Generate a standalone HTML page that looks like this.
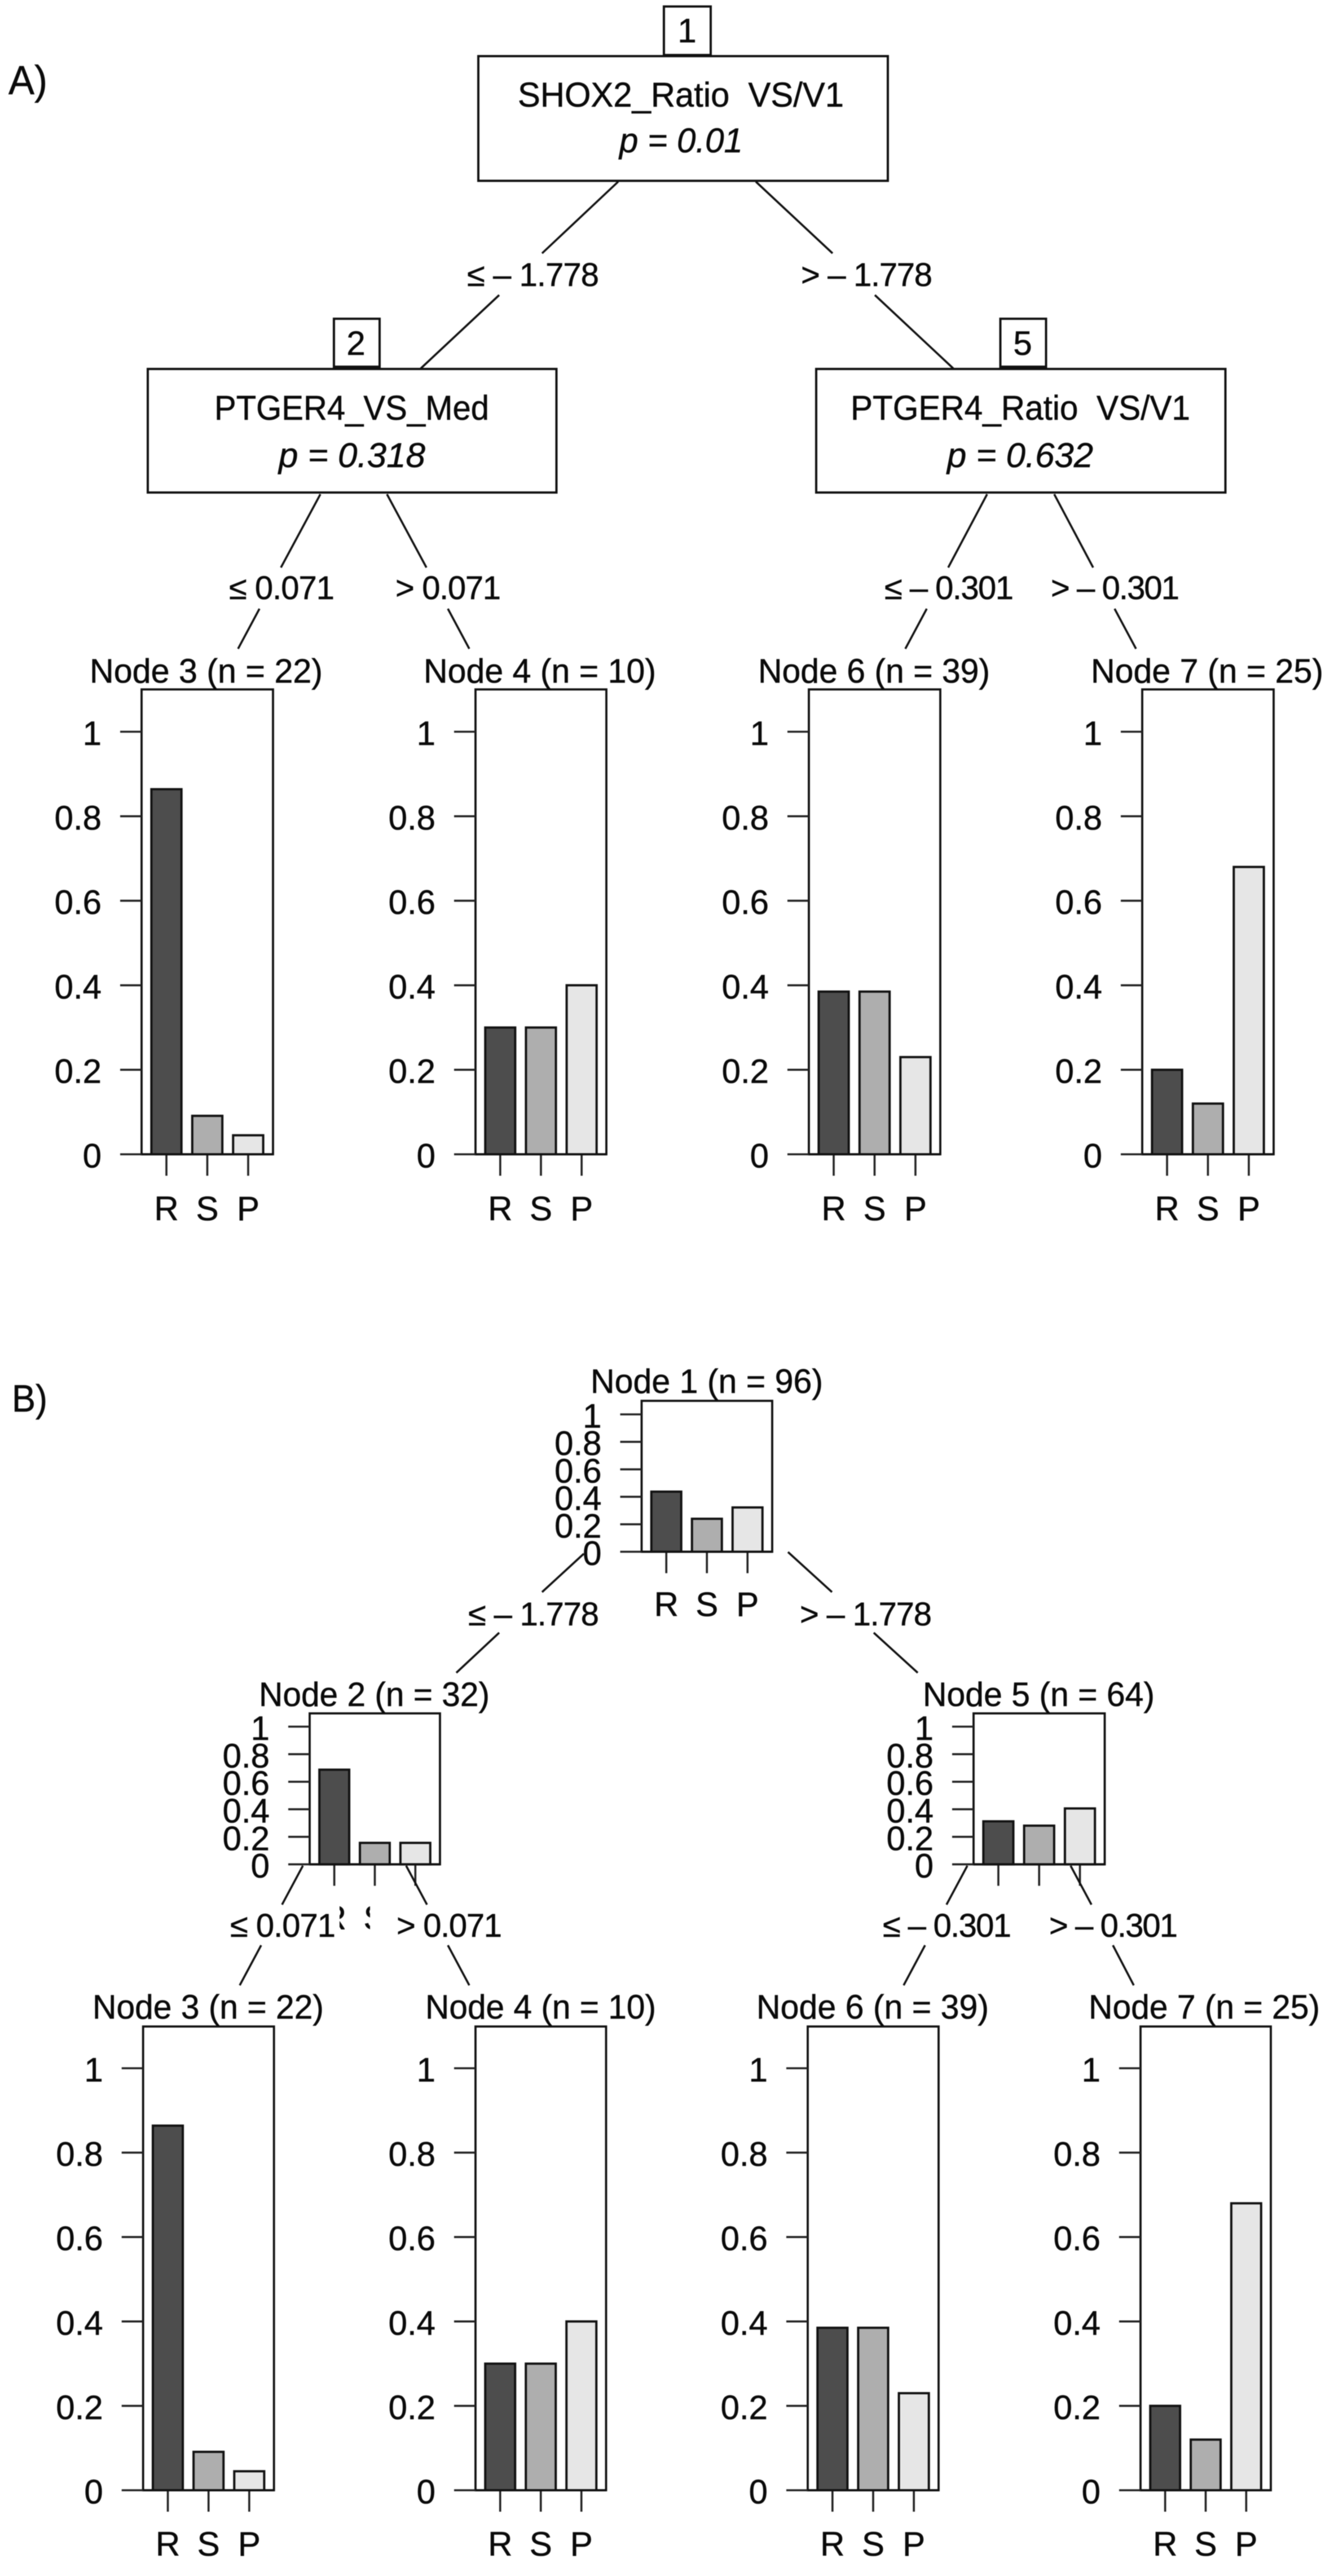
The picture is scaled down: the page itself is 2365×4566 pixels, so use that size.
<!DOCTYPE html>
<html lang="en">
<head>
<meta charset="utf-8">
<title>Decision trees A and B</title>
<style>
  html, body { margin: 0; padding: 0; background: #fff; }
  svg { display: block; filter: blur(0.7px); }
  text { font-family: "Liberation Sans", "DejaVu Sans", sans-serif; fill: #0a0a0a; stroke: #0a0a0a; stroke-width: 0.6px; white-space: pre; }
  .box { font-size: 61px; }
  .pv { font-size: 61px; font-style: italic; }
  .lab { font-size: 58px; }
  .ttl { font-size: 60px; }
  .edge { stroke: #111; stroke-width: 3.6; fill: none; }
  .nodebox { stroke: #111; stroke-width: 4; fill: #fff; }
</style>
</head>
<body>
<svg id="fig" xmlns="http://www.w3.org/2000/svg" width="2365" height="4566" viewBox="0 0 2365 4566">
  <defs>
    <clipPath id="clip-r"><rect x="602" y="3378" width="9" height="46"/></clipPath>
    <clipPath id="clip-s"><rect x="647" y="3378" width="9" height="46"/></clipPath>
  </defs>
  <rect width="2365" height="4566" fill="#fff"/>

  <text x="15" y="167" font-size="72" textLength="69" lengthAdjust="spacingAndGlyphs">A)</text>
  <text x="21" y="2502" font-size="68" textLength="63" lengthAdjust="spacingAndGlyphs">B)</text>

  <!-- Tree A: split boxes -->
  <rect class="nodebox" x="848" y="99.5" width="726" height="221"/>
  <rect class="nodebox" x="1177" y="11.5" width="83" height="86"/>
  <text x="1218" y="75" class="ttl" text-anchor="middle">1</text>
  <text x="918" y="189" class="box" textLength="578" lengthAdjust="spacingAndGlyphs">SHOX2_Ratio  VS/V1</text>
  <text x="1098" y="270" class="pv" textLength="219" lengthAdjust="spacingAndGlyphs">p = 0.01</text>

  <rect class="nodebox" x="262" y="654" width="724.5" height="219"/>
  <rect class="nodebox" x="592" y="565" width="81" height="85"/>
  <text x="631" y="629" class="ttl" text-anchor="middle">2</text>
  <text x="380" y="744" class="box" textLength="487" lengthAdjust="spacingAndGlyphs">PTGER4_VS_Med</text>
  <text x="494" y="828" class="pv" textLength="260" lengthAdjust="spacingAndGlyphs">p = 0.318</text>

  <rect class="nodebox" x="1447" y="654" width="725.5" height="219"/>
  <rect class="nodebox" x="1773.5" y="565" width="81" height="85"/>
  <text x="1813" y="629" class="ttl" text-anchor="middle">5</text>
  <text x="1508" y="744" class="box" textLength="602" lengthAdjust="spacingAndGlyphs">PTGER4_Ratio  VS/V1</text>
  <text x="1679" y="828" class="pv" textLength="259" lengthAdjust="spacingAndGlyphs">p = 0.632</text>

  <!-- Bar panels are drawn here by the script -->
  <g id="panels"></g>

  <!-- Tree A: edges -->
  <g>
    <line class="edge" x1="1096" y1="322" x2="961" y2="449"/>
    <line class="edge" x1="885" y1="523" x2="746" y2="653"/>
    <line class="edge" x1="1340" y1="322" x2="1476" y2="449"/>
    <line class="edge" x1="1551" y1="523" x2="1690" y2="653"/>
    <line class="edge" x1="568" y1="876" x2="498" y2="1006"/>
    <line class="edge" x1="460" y1="1079" x2="422" y2="1150"/>
    <line class="edge" x1="686" y1="876" x2="756" y2="1006"/>
    <line class="edge" x1="794" y1="1079" x2="832" y2="1150"/>
    <line class="edge" x1="1750" y1="876" x2="1681" y2="1006"/>
    <line class="edge" x1="1643" y1="1079" x2="1605" y2="1150"/>
    <line class="edge" x1="1869" y1="876" x2="1938" y2="1006"/>
    <line class="edge" x1="1976" y1="1079" x2="2014" y2="1150"/>
  </g>

  <!-- Tree A: edge labels -->
  <text x="828" y="507" class="lab" textLength="234" lengthAdjust="spacing">≤ – 1.778</text>
  <text x="1420" y="507" class="lab" textLength="233" lengthAdjust="spacing">&gt; – 1.778</text>
  <text x="406" y="1062" class="lab" textLength="187" lengthAdjust="spacing">≤ 0.071</text>
  <text x="701" y="1062" class="lab" textLength="187" lengthAdjust="spacing">&gt; 0.071</text>
  <text x="1568" y="1062" class="lab" textLength="229" lengthAdjust="spacing">≤ – 0.301</text>
  <text x="1863" y="1062" class="lab" textLength="228" lengthAdjust="spacing">&gt; – 0.301</text>

  <!-- Tree A: terminal titles -->
  <text x="159" y="1210" class="ttl" textLength="413" lengthAdjust="spacingAndGlyphs">Node 3 (n = 22)</text>
  <text x="751" y="1210" class="ttl" textLength="412" lengthAdjust="spacingAndGlyphs">Node 4 (n = 10)</text>
  <text x="1344" y="1210" class="ttl" textLength="411" lengthAdjust="spacingAndGlyphs">Node 6 (n = 39)</text>
  <text x="1934" y="1210" class="ttl" textLength="412" lengthAdjust="spacingAndGlyphs">Node 7 (n = 25)</text>

  <!-- Tree B: edges -->
  <g>
    <line class="edge" x1="1035" y1="2754" x2="961" y2="2822"/>
    <line class="edge" x1="885" y1="2894" x2="809" y2="2965"/>
    <line class="edge" x1="1397" y1="2751" x2="1475" y2="2822"/>
    <line class="edge" x1="1549" y1="2894" x2="1627" y2="2965"/>
    <line class="edge" x1="537" y1="3307" x2="500" y2="3376"/>
    <line class="edge" x1="463" y1="3448" x2="425" y2="3519"/>
    <line class="edge" x1="720" y1="3307" x2="757" y2="3376"/>
    <line class="edge" x1="794" y1="3448" x2="832" y2="3519"/>
    <line class="edge" x1="1715" y1="3307" x2="1678" y2="3376"/>
    <line class="edge" x1="1640" y1="3448" x2="1602" y2="3519"/>
    <line class="edge" x1="1898" y1="3307" x2="1935" y2="3376"/>
    <line class="edge" x1="1973" y1="3448" x2="2010" y2="3519"/>
  </g>

  <!-- Tree B: edge labels -->
  <text x="830" y="2881" class="lab" textLength="232" lengthAdjust="spacing">≤ – 1.778</text>
  <text x="1418" y="2881" class="lab" textLength="234" lengthAdjust="spacing">&gt; – 1.778</text>
  <text x="408" y="3433" class="lab" textLength="187" lengthAdjust="spacing">≤ 0.071</text>
  <text x="703" y="3433" class="lab" textLength="187" lengthAdjust="spacing">&gt; 0.071</text>
  <text x="1565" y="3433" class="lab" textLength="228" lengthAdjust="spacing">≤ – 0.301</text>
  <text x="1860" y="3433" class="lab" textLength="228" lengthAdjust="spacing">&gt; – 0.301</text>

  <!-- Tree B: node titles -->
  <text x="1047" y="2469" class="ttl" textLength="412" lengthAdjust="spacingAndGlyphs">Node 1 (n = 96)</text>
  <text x="459" y="3024" class="ttl" textLength="409" lengthAdjust="spacingAndGlyphs">Node 2 (n = 32)</text>
  <text x="1636" y="3024" class="ttl" textLength="411" lengthAdjust="spacingAndGlyphs">Node 5 (n = 64)</text>
  <text x="164" y="3578" class="ttl" textLength="410" lengthAdjust="spacingAndGlyphs">Node 3 (n = 22)</text>
  <text x="754" y="3578" class="ttl" textLength="409" lengthAdjust="spacingAndGlyphs">Node 4 (n = 10)</text>
  <text x="1341" y="3578" class="ttl" textLength="412" lengthAdjust="spacingAndGlyphs">Node 6 (n = 39)</text>
  <text x="1930" y="3578" class="ttl" textLength="410" lengthAdjust="spacingAndGlyphs">Node 7 (n = 25)</text>

  <!-- Slivers of the masked Node 2 category labels -->
  <text x="592.5" y="3420" class="ttl" text-anchor="middle" clip-path="url(#clip-r)">R</text>
  <text x="664.5" y="3420" class="ttl" text-anchor="middle" clip-path="url(#clip-s)">S</text>
</svg>

<script>
// Chart data: shared axes
const categories = ['R', 'S', 'P'];
const yTickValues = [0, 0.2, 0.4, 0.6, 0.8, 1];
const yTickLabels = ['0', '0.2', '0.4', '0.6', '0.8', '1'];
const barFills = ['#4d4d4d', '#aeaeae', '#e6e6e6'];

// Chart data: class proportions per node, tree A
const treeANode3 = [0.864, 0.091, 0.045];
const treeANode4 = [0.3, 0.3, 0.4];
const treeANode6 = [0.385, 0.385, 0.23];
const treeANode7 = [0.2, 0.12, 0.68];

// Chart data: class proportions per node, tree B
const treeBNode1 = [0.4375, 0.24, 0.3225];
const treeBNode2 = [0.6875, 0.156, 0.156];
const treeBNode5 = [0.3125, 0.281, 0.406];
const treeBNode3 = [0.864, 0.091, 0.045];
const treeBNode4 = [0.3, 0.3, 0.4];
const treeBNode6 = [0.385, 0.385, 0.23];
const treeBNode7 = [0.2, 0.12, 0.68];

const SVGNS = 'http://www.w3.org/2000/svg';
const panelsRoot = document.getElementById('panels');

function make(parent, tag, attrs) {
  const el = document.createElementNS(SVGNS, tag);
  for (const k in attrs) el.setAttribute(k, attrs[k]);
  parent.appendChild(el);
  return el;
}

// box: left/right/top/bottom of the frame; yOne: pixel of y=1; labelDy: category label offset
function drawPanel(name, values, box, showCategoryLabels) {
  const g = make(panelsRoot, 'g', {});
  
  

  const width = box.right - box.left;
  const yScale = v => box.bottom - v * (box.bottom - box.yOne);
  const xScale = i => box.left + width / 2 + (i - (categories.length - 1) / 2) * width * 0.311;
  const barWidth = width * 0.229;

  const frame = make(g, 'rect', { x: box.left, y: box.top, width: width, height: box.bottom - box.top, fill: '#fff', stroke: '#111', 'stroke-width': 3.8 });
  
  

  yTickValues.forEach((v, i) => {
    const y = yScale(v);
    const tick = make(g, 'line', { x1: box.left - 38, x2: box.left, y1: y, y2: y, stroke: '#222', 'stroke-width': 3.6 });
    
    
    const label = make(g, 'text', { x: box.left - 71, y: y + 23.5, 'text-anchor': 'end', 'font-size': 60 });
    label.textContent = yTickLabels[i];
    
    
  });

  values.forEach((v, i) => {
    const cx = xScale(i);
    const top = yScale(v);
    const bar = make(g, 'rect', { x: cx - barWidth / 2, y: top, width: barWidth, height: box.bottom - top, fill: barFills[i], stroke: '#111', 'stroke-width': 4 });
    
    
    const tick = make(g, 'line', { x1: cx, x2: cx, y1: box.bottom, y2: box.bottom + 38, stroke: '#222', 'stroke-width': 3.6 });
    
    
    if (showCategoryLabels) {
      const label = make(g, 'text', { x: cx, y: box.bottom + box.labelDy, 'text-anchor': 'middle', 'font-size': 60 });
      label.textContent = categories[i];
      
      
    }
  });

  const axis = make(g, 'line', { x1: box.left, x2: box.right, y1: box.bottom, y2: box.bottom, stroke: '#111', 'stroke-width': 4 });
  
  
}

// Tree A terminals
drawPanel('node-3-panel-a', treeANode3, { left: 251, right: 484, top: 1222, bottom: 2046, yOne: 1297, labelDy: 117 }, true);
drawPanel('node-4-panel-a', treeANode4, { left: 843, right: 1075, top: 1222, bottom: 2046, yOne: 1297, labelDy: 117 }, true);
drawPanel('node-6-panel-a', treeANode6, { left: 1434, right: 1667, top: 1222, bottom: 2046, yOne: 1297, labelDy: 117 }, true);
drawPanel('node-7-panel-a', treeANode7, { left: 2025, right: 2258, top: 1222, bottom: 2046, yOne: 1297, labelDy: 117 }, true);

// Tree B inner nodes
drawPanel('node-1-panel-b', treeBNode1, { left: 1137.5, right: 1369, top: 2483, bottom: 2750.5, yOne: 2507, labelDy: 114 }, true);
drawPanel('node-2-panel-b', treeBNode2, { left: 549, right: 780, top: 3037, bottom: 3304.6, yOne: 3060.5, labelDy: 114 }, false);
drawPanel('node-5-panel-b', treeBNode5, { left: 1726, right: 1958.5, top: 3037, bottom: 3304.6, yOne: 3060.5, labelDy: 114 }, false);

// Tree B terminals
drawPanel('node-3-panel-b', treeBNode3, { left: 253.7, right: 485.7, top: 3592, bottom: 4414, yOne: 3666, labelDy: 116 }, true);
drawPanel('node-4-panel-b', treeBNode4, { left: 843, right: 1074.5, top: 3592, bottom: 4414, yOne: 3666, labelDy: 116 }, true);
drawPanel('node-6-panel-b', treeBNode6, { left: 1432, right: 1664, top: 3592, bottom: 4414, yOne: 3666, labelDy: 116 }, true);
drawPanel('node-7-panel-b', treeBNode7, { left: 2022, right: 2253, top: 3592, bottom: 4414, yOne: 3666, labelDy: 116 }, true);
</script>
</body>
</html>
